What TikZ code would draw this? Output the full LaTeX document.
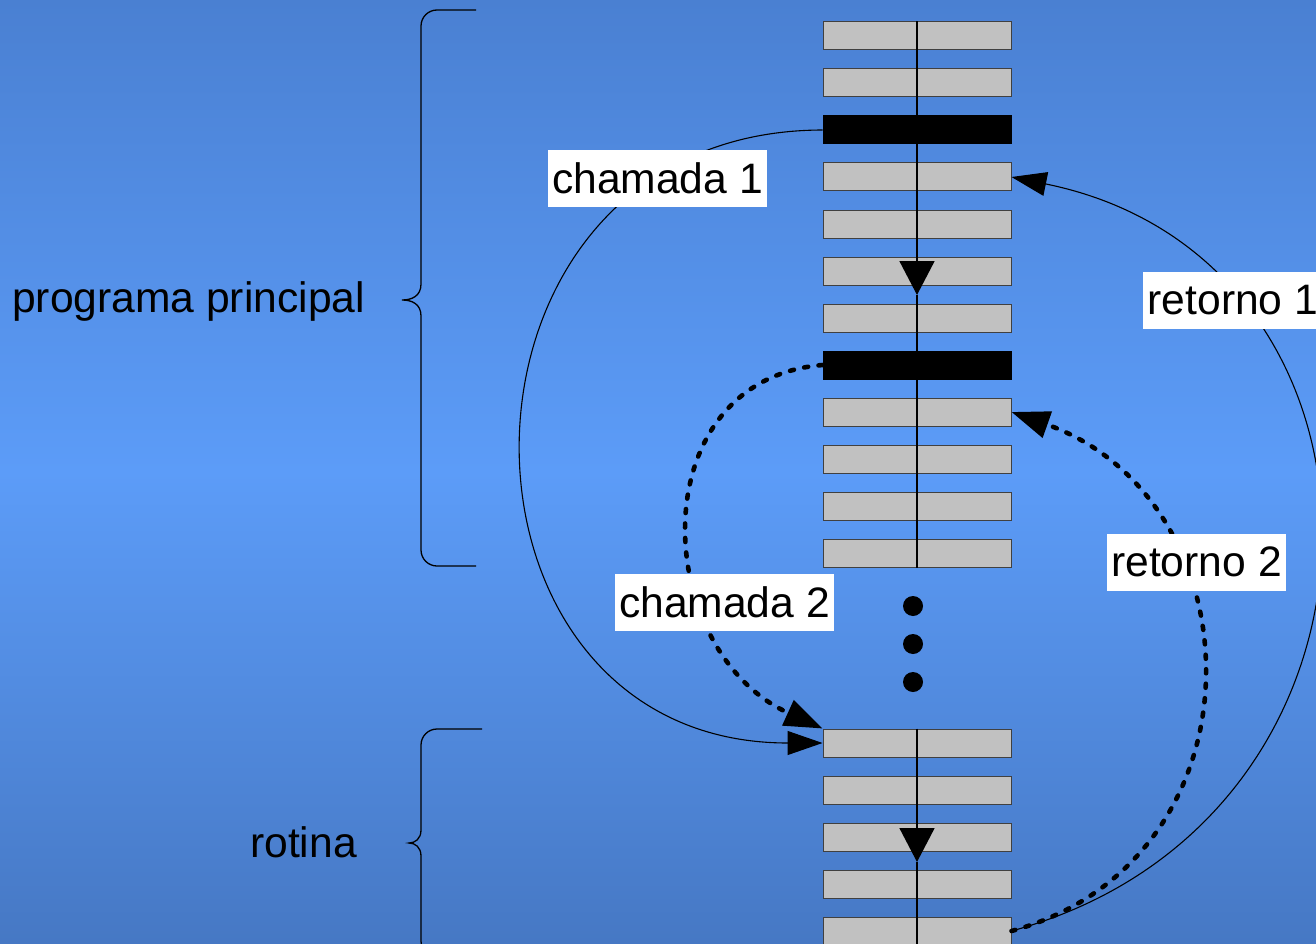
\documentclass[tikz,border=0pt]{standalone}
\usepackage{fontspec}
\setmainfont{Liberation Sans}
\usetikzlibrary{positioning,arrows.meta,calc}
\tikzstyle{flow} = [line width=1.6pt,-{Triangle[width=35pt,length=34pt]}]

\definecolor{deskdark}{RGB}{74,128,210}
\definecolor{desklight}{RGB}{92,156,248}
\definecolor{deskbottom}{RGB}{70,120,196}

\begin{document}
\begin{tikzpicture}[
        x=1pt, y=-1pt,
        cell/.style={
            rectangle,
            draw=black!75,
            fill=black!24.5,
            line width=1pt,
            minimum width=188pt,
            minimum height=28pt,
            inner sep=0pt
        },
        jump/.style={cell, fill=black, draw=black},
        call/.style={line width=1.1pt,-{Triangle[width=24pt,length=35pt]}},
        back/.style={line width=4.6pt, dash pattern=on 4pt off 10.5pt, line cap=round,
            -{Triangle[width=27pt,length=38pt]}},
        tag/.style={
            fill=white,
            font=\fontsize{42.6}{50}\selectfont,
            minimum height=57pt,
            inner xsep=4.5pt,
            inner ysep=0pt
        },
        caption/.style={font=\fontsize{42.6}{50}\selectfont, inner sep=0pt, anchor=base west},
        brace/.style={line width=1.3pt},
        dot/.style={circle, fill=black, minimum size=20pt, inner sep=0pt}
    ]

    \useasboundingbox (0,0) rectangle (1316,944);
    \clip (0,0) rectangle (1316,944);

    % backdrop
    \shade[top color=deskdark, bottom color=deskbottom, middle color=desklight]
        (0,0) rectangle (1316,944);

    % braces
    \draw[brace, rounded corners=16pt] (476,10) -| (421,150)
        [sharp corners] -- (421,284)
        .. controls (421,296) and (412,300) .. (402,300)
        .. controls (412,300) and (421,304) .. (421,316)
        -- (421,420) [rounded corners=16pt] |- (476,566);
    \draw[brace, rounded corners=16pt] (482,729) -| (421,780)
        [sharp corners] -- (421,830)
        .. controls (421,839) and (415,843) .. (409,843)
        .. controls (415,843) and (421,847) .. (421,856)
        -- (421,900) [rounded corners=16pt] |- (482,957);

    \node[caption] (main) at (12,312) {programa principal};
    \node[caption] (sub) at (250,857) {rotina};

    % main program cells
    \foreach \i/\kind in {1/cell,2/cell,3/jump,4/cell,5/cell,6/cell,
                          7/cell,8/jump,9/cell,10/cell,11/cell,12/cell}
        \node[\kind] (b\i) at (917,{36+47*(\i-1)}) {};

    % routine cells
    \foreach \i in {1,...,5}
        \node[cell] (r\i) at (917,{743+47*(\i-1)}) {};

    \coordinate (tipmain) at (917,295);
    \coordinate (tipsub) at (917,862);
    \draw[flow] (b1.north) -- (tipmain);
    \draw[line width=1.3pt] (tipmain) -- (b12.south);
    \draw[flow] (r1.north) -- (tipsub);
    \draw[line width=2pt] (tipsub) -- (r5.south);

    % calls and returns
    \draw[call] (b3.west) .. controls (424,131) and (424,743) .. (r1.west);
    \draw[call] (r5.east) .. controls (1420,820) and (1420,260) .. (b4.east);
    \draw[back] (b8.west) .. controls (640,380) and (650,650) .. (r1.north west);
    \draw[back] (r5.east) .. controls (1270,860) and (1260,500) .. (b9.east);

    \node[tag] (c1) at (657.5,178.5) {chamada 1};
    \node[tag, anchor=west] (t1) at (1143,300) {retorno 1};
    \node[tag] (t2) at (1196.5,562) {retorno 2};
    \node[tag] (c2) at (724.5,602) {chamada 2};

    % skipped cells
    \foreach \k in {0,1,2}
        \node[dot] (gap\k) at (913,{606+38*\k}) {};

\end{tikzpicture}
\end{document}
